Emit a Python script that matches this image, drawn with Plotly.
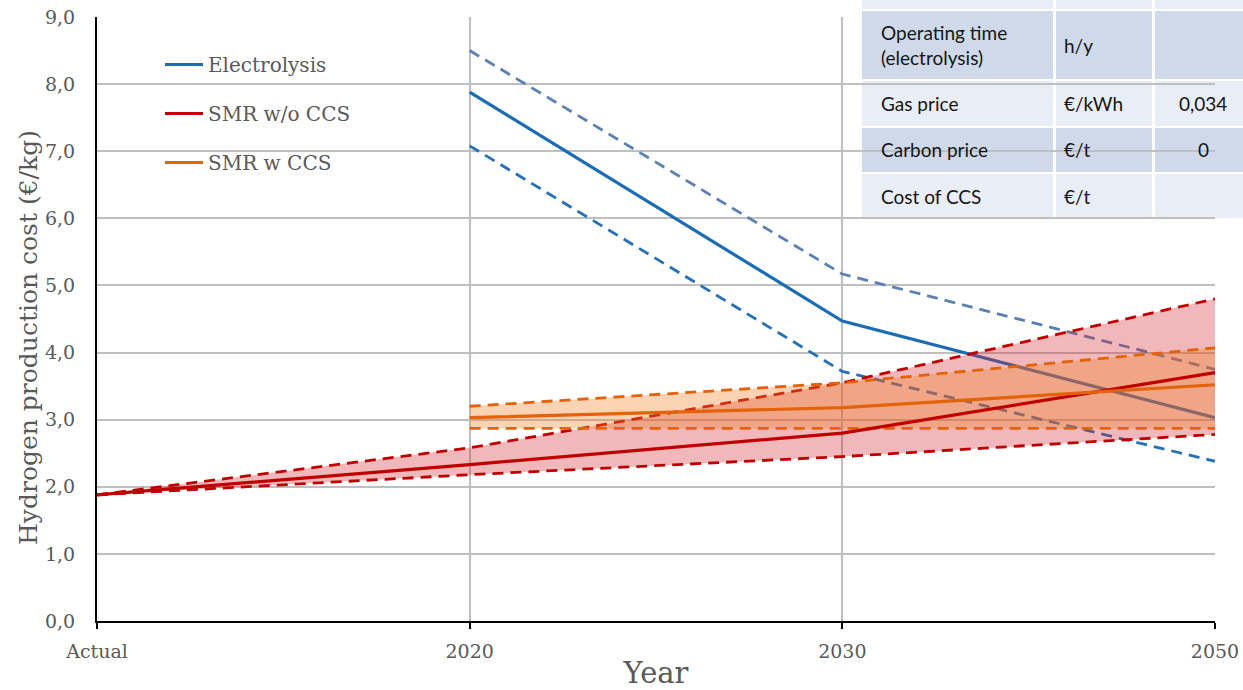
import plotly.graph_objects as go

categories = ["Actual", "2020", "2030", "2050"]

elec_mid = [None, 7.88, 4.47, 3.03]
elec_high = [None, 8.50, 5.17, 3.75]
elec_low = [None, 7.08, 3.72, 2.38]

smr_mid = [1.88, 2.33, 2.80, 3.70]
smr_high = [1.88, 2.58, 3.55, 4.80]
smr_low = [1.88, 2.18, 2.45, 2.78]

ccs_mid = [None, 3.03, 3.18, 3.52]
ccs_high = [None, 3.20, 3.55, 4.07]
ccs_low = [None, 2.87, 2.87, 2.87]

table_labels = ["", "Operating time<br>(electrolysis)", "Gas price", "Carbon price", "Cost of CCS"]
table_units = ["", "h/y", "€/kWh", "€/t", "€/t"]
table_values = ["", "", "0,034", "0", ""]

# layout geometry (pixels)
L, R, T, B = 97, 1215, 17, 621
W, H = 1243, 690


def px(x):
    return (x - L) / (R - L)


def py(y):
    return (B - y) / (B - T)


def xy(vals):
    xs = [c for c, v in zip(categories, vals) if v is not None]
    ys = [v for v in vals if v is not None]
    return xs, ys


fig = go.Figure()

dash = "11px,7px"

def line(vals, color, width, d=None, name=None, show=False, fill=None, fillcolor=None):
    xs, ys = xy(vals)
    fig.add_trace(go.Scatter(
        x=xs, y=ys, mode="lines", name=name or "",
        line=dict(color=color, width=width, dash=d) if d else dict(color=color, width=width),
        showlegend=show, legendgroup=name if show else None,
        fill=fill, fillcolor=fillcolor, hoverinfo="skip"))

# electrolysis
line(elec_high, "#5b80b4", 2.8, dash)
line(elec_low, "#2471b8", 2.8, dash)
line(elec_mid, "#1a6db5", 3.2, name="Electrolysis", show=True)
# SMR w/o CCS band
line(smr_low, "#c00000", 2.8, dash)
line(smr_high, "#c00000", 2.8, dash, fill="tonexty", fillcolor="rgba(210,40,50,0.33)")
# SMR w CCS band
line(ccs_low, "#e3620a", 2.8, dash)
line(ccs_high, "#e3620a", 2.8, dash, fill="tonexty", fillcolor="rgba(240,130,40,0.35)")
# means
line(smr_mid, "#c00000", 3.2, name="SMR w/o CCS", show=True)
line(ccs_mid, "#e3620a", 3.2, name="SMR w CCS", show=True)

# table
rows = [(0, 9), (11, 79), (81, 126), (128, 172), (174, 218)]
cols = [(862, 1053), (1056, 1152), (1155, 1243)]
shapes = []
annotations = []
for i, (y0, y1) in enumerate(rows):
    fillc = "#e9edf6" if i % 2 == 0 else "#cfd9ea"
    for (x0, x1) in cols:
        shapes.append(dict(type="rect", xref="x domain", yref="y domain",
                           x0=px(x0), x1=px(x1), y0=py(y1), y1=py(y0),
                           fillcolor=fillc, line=dict(width=0), layer="below"))
    yc = py((y0 + y1) / 2)
    tf = dict(family="Lato, Open Sans, sans-serif", size=19, color="#151515")
    if table_labels[i]:
        annotations.append(dict(x=px(879), y=yc, xref="paper", yref="paper", text=table_labels[i],
                                showarrow=False, xanchor="left", yanchor="middle", align="left", font=tf))
    if table_units[i]:
        annotations.append(dict(x=px(1062), y=yc, xref="paper", yref="paper", text=table_units[i],
                                showarrow=False, xanchor="left", yanchor="middle", font=tf))
    if table_values[i]:
        xr = 1229 if len(table_values[i]) > 1 else 1211
        annotations.append(dict(x=px(xr), y=yc, xref="paper", yref="paper", text=table_values[i],
                                showarrow=False, xanchor="right", yanchor="middle", font=tf))

grey = "#595959"
serif = "DejaVu Serif, serif"

# y-axis title as a rotated annotation (centred like the reference)
annotations.append(dict(x=px(28), y=py(338), xref="paper", yref="paper",
                        text="Hydrogen production cost (€/kg)", textangle=-90,
                        showarrow=False, xanchor="center", yanchor="middle",
                        font=dict(family=serif, size=25, color=grey)))

fig.update_layout(
    width=W, height=H,
    margin=dict(l=L, r=W - R, t=T, b=H - B, autoexpand=False),
    paper_bgcolor="white", plot_bgcolor="rgba(0,0,0,0)",
    separators=", ",
    shapes=shapes, annotations=annotations,
    showlegend=True,
    legend=dict(x=px(160), y=py(45), xanchor="left", yanchor="top",
                font=dict(family=serif, size=20, color=grey), itemwidth=38,
                bgcolor="rgba(0,0,0,0)", tracegroupgap=20, traceorder="grouped"),
    xaxis=dict(type="category", categoryorder="array", categoryarray=categories,
               range=[0, 3], showgrid=True, gridcolor="#bfbfbf", gridwidth=1.5,
               showline=True, linecolor="black", linewidth=2,
               ticks="outside", ticklen=6, tickcolor="black", tickwidth=1.5,
               tickfont=dict(family=serif, size=19, color=grey),
               ticklabelstandoff=6, automargin=False,
               title=dict(text="Year", font=dict(family=serif, size=29, color=grey), standoff=4),
               zeroline=False),
    yaxis=dict(range=[0, 9], dtick=1, tickformat=".1f", showgrid=True,
               gridcolor="#bfbfbf", gridwidth=1.5,
               showline=True, linecolor="black", linewidth=2, ticks="",
               tickfont=dict(family=serif, size=19, color=grey),
               ticklabelstandoff=16, automargin=False,
               zeroline=False),
)

fig.write_html("out.html", config={"displayModeBar": False},
               post_script="document.body.style.margin='0';document.body.style.overflow='hidden';")
